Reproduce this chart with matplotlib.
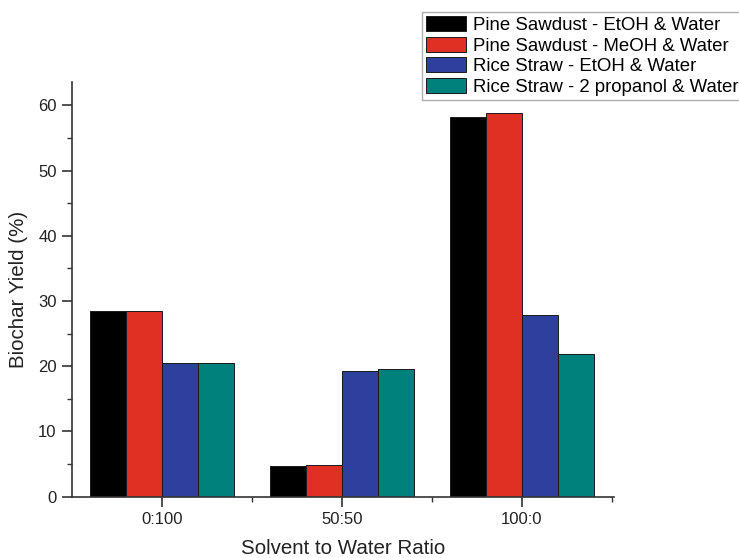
import numpy as np
import matplotlib
matplotlib.use('Agg')
import matplotlib.pyplot as plt
from matplotlib.ticker import MultipleLocator

plt.rcParams['font.family'] = ['Liberation Sans', 'DejaVu Sans']

ratios = ['0:100', '50:50', '100:0']
series_names = ['Pine Sawdust - EtOH & Water',
                'Pine Sawdust - MeOH & Water',
                'Rice Straw - EtOH & Water',
                'Rice Straw - 2 propanol & Water']
pine_etoh = [28.4, 4.7, 58.2]
pine_meoh = [28.5, 4.8, 58.9]
rice_etoh = [20.5, 19.2, 27.9]
rice_prop = [20.5, 19.6, 21.9]
colors = ['#000000', '#e03024', '#2f3f9d', '#00817b']


def main():
    fig = plt.figure(figsize=(7.39, 5.58), dpi=100)
    ax = fig.add_axes([0.0974, 0.110, 0.733, 0.743])

    x = np.arange(len(ratios))
    width = 0.2
    allvals = [pine_etoh, pine_meoh, rice_etoh, rice_prop]
    for i, vals in enumerate(allvals):
        ax.bar(x + (i - 1.5) * width, vals, width, color=colors[i],
               edgecolor='#1a1a1a', linewidth=0.7, label=series_names[i])

    ax.set_xlim(-0.5, 2.51)
    ax.set_ylim(0, 63.6)
    ax.set_xticks(x)
    ax.set_xticklabels(ratios)
    ax.set_xticks(x + 0.5, minor=True)
    ax.yaxis.set_major_locator(MultipleLocator(10))
    ax.yaxis.set_minor_locator(MultipleLocator(5))

    for s in ['top', 'right']:
        ax.spines[s].set_visible(False)
    for s in ['left', 'bottom']:
        ax.spines[s].set_linewidth(1.2)
        ax.spines[s].set_color('#333333')

    ax.tick_params(which='major', direction='out', length=7, width=1.2,
                   color='#333333', labelsize=12, labelcolor='#222222', pad=4)
    ax.tick_params(which='minor', direction='out', length=3.5, width=1.0,
                   color='#333333')

    ax.set_xlabel('Solvent to Water Ratio', fontsize=14.8, color='#222222', labelpad=8.5)
    ax.set_ylabel('Biochar Yield (%)', fontsize=14.8, color='#222222', labelpad=7)

    leg = fig.legend(loc='upper left', bbox_to_anchor=(422 / 739, 1 - 12 / 558),
                     fontsize=13.4, frameon=True, fancybox=False,
                     handlelength=2.15, handleheight=0.85, handletextpad=0.35,
                     labelspacing=0.15, borderpad=0.22, borderaxespad=0)
    leg.get_frame().set_edgecolor('#999999')
    leg.get_frame().set_linewidth(1.0)

    fig.savefig('out.png', dpi=100)


if __name__ == '__main__':
    main()
